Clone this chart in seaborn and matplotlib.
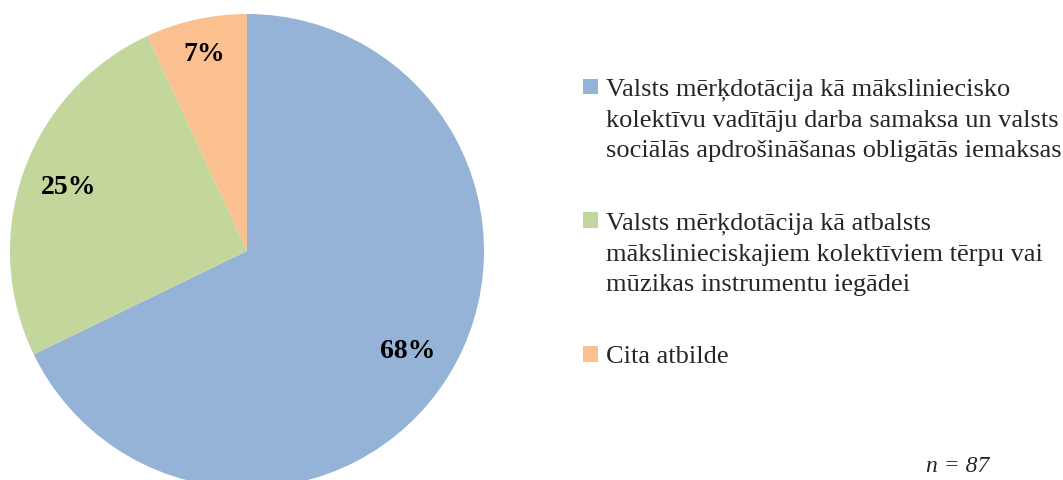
import matplotlib
matplotlib.use("Agg")
import seaborn as sns
from matplotlib import pyplot as plt
from matplotlib.legend_handler import HandlerPatch

# survey answers (n = 87)
labels = [
    "Valsts mērķdotācija kā māksliniecisko\nkolektīvu vadītāju darba samaksa un valsts\nsociālās apdrošināšanas obligātās iemaksas",
    "Valsts mērķdotācija kā atbalsts\nmākslinieciskajiem kolektīviem tērpu vai\nmūzikas instrumentu iegādei",
    "Cita atbilde",
]
counts = [59, 22, 6]
colors = ["#95B3D7", "#C3D69B", "#FAC090"]
n_total = 87

sns.set_theme(style="white")
plt.rcParams["font.family"] = ["Liberation Serif", "DejaVu Serif"]

fig = plt.figure(figsize=(10.63, 4.8), dpi=100)
ax = fig.add_axes([10/1063, (229-237)/480, 474/1063, 474/480])

wedges, texts, autotexts = ax.pie(
    counts, colors=sns.color_palette(colors), startangle=90, counterclock=False,
    autopct=lambda p: f"{p:.0f}%", pctdistance=0.8, radius=1,
    textprops=dict(fontsize=20, fontweight="bold", color="black"),
    wedgeprops=dict(linewidth=0),
)
# small slice label sits a bit further out
x, y = autotexts[2].get_position()
autotexts[2].set_position((x * 0.85 / 0.8, y * 0.85 / 0.8))
ax.set_xlim(-1, 1)
ax.set_ylim(-1, 1)
ax.set_aspect("equal")
ax.axis("off")

leg = fig.legend(wedges, labels, loc="upper left", bbox_to_anchor=(559/1063, 1 - 55/480),
                 frameon=False, fontsize=19, handlelength=0.57, handleheight=0.62,
                 handletextpad=0.3, labelspacing=1.9,
                 handler_map={w: HandlerPatch(ypad=0.06) for w in wedges})
for t in leg.get_texts():
    t.set_linespacing(1.5)
# put the squares next to the first line of each entry
for col in leg._legend_handle_box.get_children():
    for row in col.get_children():
        row.align = "top"

fig.text(958/1063, 1 - 467/480, f"n = {n_total}", fontsize=17, style="italic",
         ha="center", va="center")

plt.savefig("out.png", dpi=100)
